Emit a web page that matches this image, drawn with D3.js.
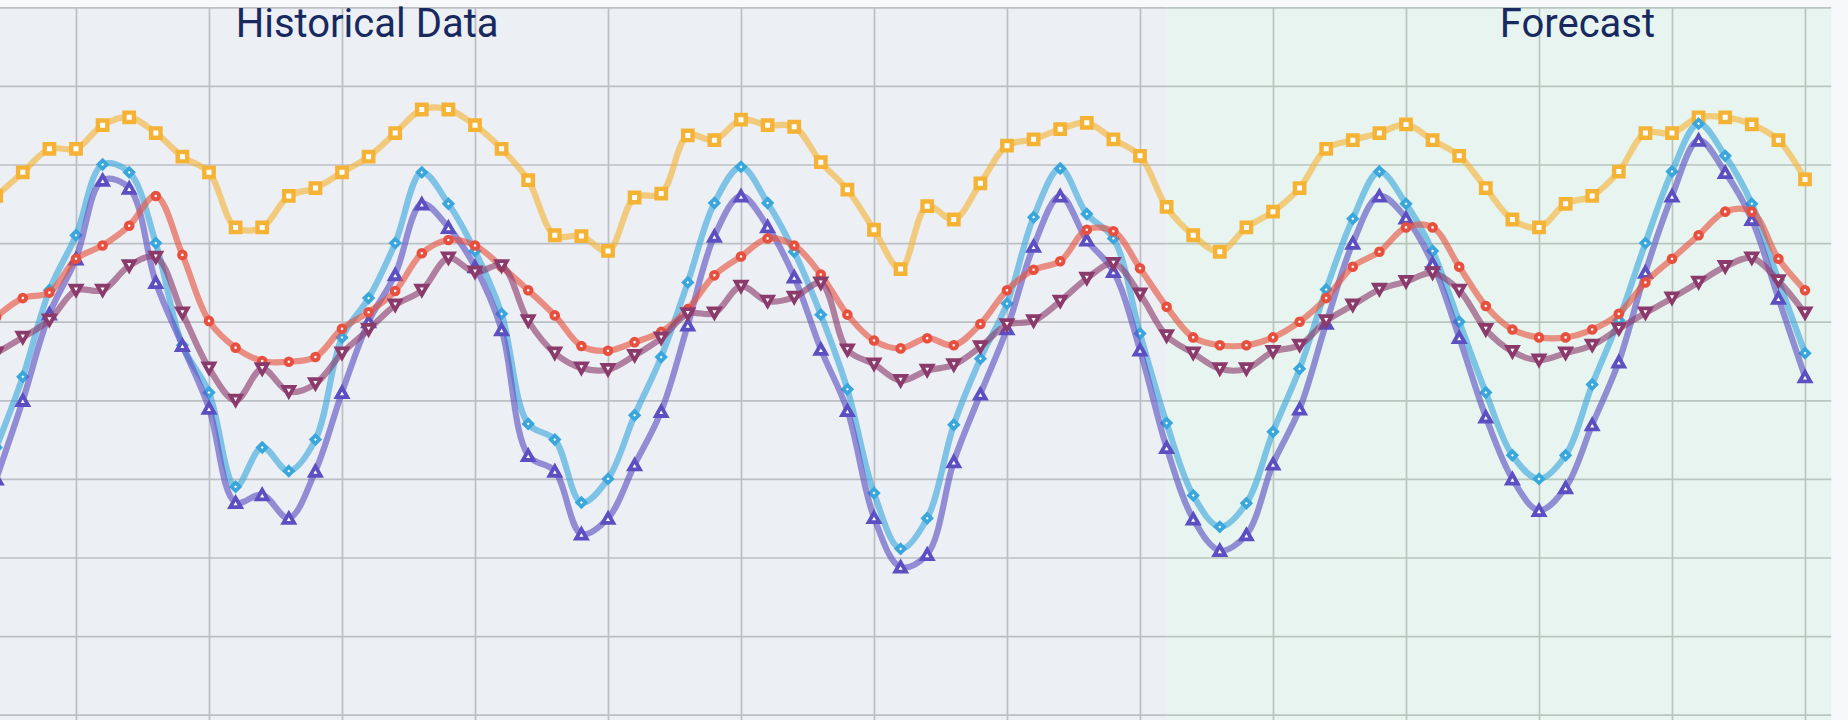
<!DOCTYPE html>
<html>
<head>
<meta charset="utf-8">
<script src="https://cdn.jsdelivr.net/npm/d3@7"></script>
<style>
  html, body { margin: 0; padding: 0; background: #f7f8fa; overflow: hidden; }
  svg { display: block; }
</style>
</head>
<body>
<svg id="chart" width="1848" height="720"></svg>
<script>
// ---------------- data ----------------
const pointIndex = d3.range(69);               // sample positions (categories)
const seriesNames = ["S1", "S2", "S3", "S4", "S5"];

const yellowSeries = [66, 69, 72, 72, 75, 76, 74, 71, 69, 62, 62, 66,
  67, 69, 71, 74, 77, 77, 75, 72, 68, 61, 60.9, 59,
  65.8, 66.3, 73.7, 73.1, 75.7, 75, 74.8, 70.3, 66.8, 61.7, 56.7,
  64.7, 63, 67.6, 72.4, 73.2, 74.5, 75.3, 73.2, 71.1, 64.6, 61,
  58.9, 62, 64, 67, 72, 73.1, 74, 75.1, 73.1, 71.1, 67, 63,
  62, 65, 66, 69.1, 74, 74, 76, 76, 75.1, 73.1, 68.1];

const cyanSeries = [34, 43, 54, 61, 70, 69, 60, 47, 41, 29, 34, 31,
  35, 48, 53, 60, 69, 65, 59, 51, 37, 35, 27, 30,
  38.1, 45.5, 55, 65.1, 69.7, 65.1, 58.9, 50.9, 41.4, 28.2, 21.1,
  25, 36.9, 45.3, 52.3, 63.3, 69.5, 63.7, 60.6, 48.5, 37.1, 27.9,
  23.9, 26.9, 36, 44, 54.1, 63.1, 69.1, 65, 59, 50, 41, 33,
  30, 33, 42, 50.2, 60, 69.1, 75.2, 71.1, 65, 55.3, 46];

const purpleSeries = [30, 40, 51, 58, 68, 67, 55, 47, 39, 27, 28, 25,
  31, 41, 50, 56, 65, 62, 57, 49, 33, 31, 23, 25,
  31.8, 38.6, 49.6, 60.9, 66, 62.1, 55.7, 46.5, 38.7, 25.1, 18.8,
  20.4, 32.2, 40.8, 49.1, 59.6, 66, 60.4, 56.4, 46.4, 34, 24.9,
  20.9, 22.9, 31.9, 38.9, 49.8, 60, 66, 63.2, 57.4, 48, 37.9, 30,
  26, 28.9, 36.9, 44.9, 56.3, 66, 73.1, 69, 63, 53, 43];

const redSeries = [50.6, 53, 53.7, 58, 59.7, 62.2, 66, 58.5, 50.1, 46.7, 45, 44.9,
  45.5, 49.1, 51.2, 53.9, 58.7, 60.4, 59.7, 57, 54, 50.8, 46.9, 46.3,
  47.4, 48.7, 51.6, 55.9, 58.3, 60.6, 59.7, 56, 50.9, 47.6, 46.6,
  47.9, 47, 49.7, 54, 56.6, 57.7, 61.7, 61.5, 56.8, 51.9, 48,
  47, 47, 48, 50, 53, 57, 58.9, 62, 62, 57, 52, 49,
  48, 48, 49, 51, 55, 58, 61, 64, 64, 58, 54];

const maroonSeries = [46, 48, 50.2, 54, 54, 57.1, 58.2, 51.1, 44.1, 40, 44, 41.1,
  42.1, 46, 49, 52.1, 54, 58.1, 56.3, 57.1, 50.1, 46, 44.1, 43.9,
  45.7, 47.9, 51, 51.1, 54.5, 52.6, 53.1, 54.9, 46.4, 44.6, 42.5,
  43.8, 44.5, 46.8, 49.6, 50.1, 52.6, 55.5, 57.4, 53.5, 48.2, 46,
  44, 44, 46.2, 47, 50.1, 52.1, 54.1, 55.1, 56.2, 54, 49, 46.2,
  45.1, 46, 47, 49.1, 51.1, 53, 55, 57, 58.1, 55.2, 51.1];

const bandLabels = ["Historical Data", "Forecast"];
const bandStart  = [-16, 44];
const bandEnd    = [44, 75];

const yTickValues = d3.range(0, 91, 10);
const xTickValues = d3.range(-2, 70, 5);

// ---------------- styles ----------------
const series = [
  { name: seriesNames[0], values: yellowSeries, color: "#f5b335", symbol: "square" },
  { name: seriesNames[1], values: cyanSeries,   color: "#3aa7dc", symbol: "diamond" },
  { name: seriesNames[2], values: purpleSeries, color: "#5b4fc1", symbol: "triangleUp" },
  { name: seriesNames[3], values: redSeries,    color: "#e7503e", symbol: "circle" },
  { name: seriesNames[4], values: maroonSeries, color: "#8b3a6c", symbol: "triangleDown" }
];
const bandFills = ["#eceff4", "#e8f4ef"];
const bandGrid  = ["#bcbfc4", "#b9c6bf"];

// ---------------- layout ----------------
const W = 1848, H = 720;
const x = d3.scaleLinear().domain([0, 69]).range([-3.8, 1831.6]);
const y = d3.scaleLinear().domain([0, 90]).range([714.7, 7.3]);
const plotLeft = -60, plotRight = x(69), plotTop = y(90), plotBottom = 780;

const svg = d3.select("#chart");
svg.append("rect").attr("width", W).attr("height", H).attr("fill", "#f7f8fa");

const defs = svg.append("defs");
defs.append("clipPath").attr("id", "plotClip")
  .append("rect").attr("x", plotLeft).attr("y", plotTop - 2)
  .attr("width", plotRight - plotLeft).attr("height", plotBottom - plotTop + 2);

const bands = bandLabels.map((label, i) => ({
  label, from: bandStart[i], to: bandEnd[i], fill: bandFills[i], grid: bandGrid[i]
}));

bands.forEach((b, i) => {
  const x0 = Math.max(x(b.from), plotLeft), x1 = Math.min(x(b.to), plotRight);
  defs.append("clipPath").attr("id", "band" + i)
    .append("rect").attr("x", x0).attr("y", plotTop - 2)
    .attr("width", x1 - x0).attr("height", plotBottom - plotTop + 2);
});

const plot = svg.append("g").attr("clip-path", "url(#plotClip)");

// backgrounds
bands.forEach(b => {
  const x0 = Math.max(x(b.from), plotLeft), x1 = Math.min(x(b.to), plotRight);
  plot.append("rect").attr("x", x0).attr("y", plotTop)
    .attr("width", x1 - x0).attr("height", plotBottom - plotTop)
    .attr("fill", b.fill);
});

// grid, drawn per band so each band has its own tint
bands.forEach((b, i) => {
  const g = plot.append("g").attr("clip-path", `url(#band${i})`);
  const gy = g.append("g").attr("transform", `translate(${plotLeft},0)`)
    .call(d3.axisLeft(y).tickValues(yTickValues).tickSize(-(plotRight - plotLeft)).tickFormat(""));
  const gx = g.append("g").attr("transform", `translate(0,${plotBottom})`)
    .call(d3.axisBottom(x).tickValues(xTickValues).tickSize(plotBottom - plotTop).tickFormat(""));
  gx.selectAll(".tick line").attr("y2", -(plotBottom - plotTop));
  [gy, gx].forEach(a => {
    a.select(".domain").remove();
    a.selectAll(".tick line").attr("stroke", b.grid).attr("stroke-width", 1.7);
  });
});

// band labels
bands.forEach(b => {
  plot.append("text")
    .attr("x", x((b.from + b.to) / 2) - 1.5)
    .attr("y", 36.5)
    .attr("text-anchor", "middle")
    .attr("font-family", "Roboto, 'Noto Sans', sans-serif")
    .attr("font-size", 40)
    .attr("fill", "#17295f")
    .text(b.label);
});

// symbols
function symbolPath(type) {
  switch (type) {
    case "square": { const s = 4.7; return `M${-s},${-s}H${s}V${s}H${-s}Z`; }
    case "diamond": { const s = 4.1; return `M0,${-s}L${s},0L0,${s}L${-s},0Z`; }
    case "circle": { const r = 3.3; return `M${r},0A${r},${r} 0 1,1 ${-r},0A${r},${r} 0 1,1 ${r},0Z`; }
    case "triangleUp": { const w = 5.3, h = 4.7; return `M0,${-h}L${w},${h}L${-w},${h}Z`; }
    case "triangleDown": { const w = 5.3, h = 4.7; return `M0,${h}L${w},${-h}L${-w},${-h}Z`; }
  }
}
const strokeW = { square: 4.4, diamond: 3.7, circle: 4.0, triangleUp: 3.8, triangleDown: 3.8 };

const line = d3.line()
  .x((d, i) => x(pointIndex[i]))
  .y(d => y(d))
  .curve(d3.curveCatmullRom.alpha(0.5));

series.forEach(s => {
  const g = plot.append("g");
  g.append("path")
    .attr("d", line(s.values))
    .attr("fill", "none")
    .attr("stroke", s.color)
    .attr("stroke-opacity", 0.62)
    .attr("stroke-width", 6.2)
    .attr("stroke-linejoin", "round")
    .attr("stroke-linecap", "round");
  g.selectAll("path.sym").data(s.values).join("path")
    .attr("class", "sym")
    .attr("transform", (d, i) => `translate(${x(pointIndex[i])},${y(d)})`)
    .attr("d", symbolPath(s.symbol))
    .attr("fill", "#ffffff")
    .attr("stroke", s.color)
    .attr("stroke-width", strokeW[s.symbol])
    .attr("stroke-linejoin", "miter");
});
</script>
</body>
</html>
